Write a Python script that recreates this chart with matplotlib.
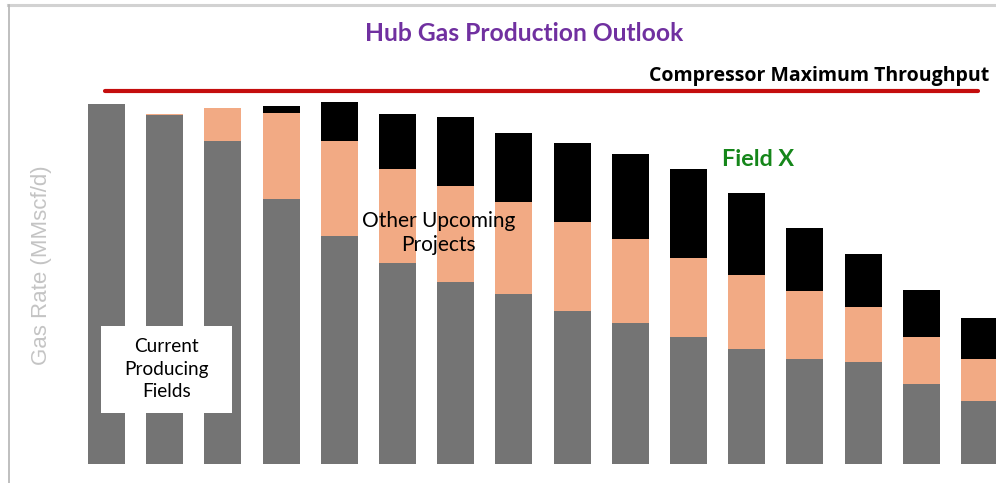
import matplotlib.pyplot as plt
from matplotlib.lines import Line2D
from matplotlib.patches import Rectangle
import numpy as np

# Bar data (arbitrary gas-rate units)
PERIODS = list(range(16))
CURRENT_FIELDS = [360, 349, 323, 265, 228, 201, 182, 170, 153, 141, 127, 115, 105, 102, 80, 63]
OTHER_PROJECTS = [0, 1, 33, 86, 95, 94, 96, 92, 89, 84, 79, 74, 68, 55, 47, 42]
FIELD_X = [0, 0, 0, 7, 39, 55, 69, 69, 79, 85, 89, 82, 63, 53, 47, 41]
COMPRESSOR_MAX = 373.5

GRAY = '#747474'
SALMON = '#f2aa84'
BLACK = '#000000'


def plot_data():
    fig = plt.figure(figsize=(9.96, 4.83), dpi=100)
    ax = fig.add_axes([0, 0, 1, 1])

    x = np.array(PERIODS)
    cur = np.array(CURRENT_FIELDS)
    oth = np.array(OTHER_PROJECTS)
    fx = np.array(FIELD_X)
    width = 0.636

    ax.bar(x, cur, width=width, color=GRAY)
    ax.bar(x, oth, width=width, bottom=cur, color=SALMON)
    ax.bar(x, fx, width=width, bottom=cur + oth, color=BLACK)

    # compressor limit
    ax.hlines(COMPRESSOR_MAX, -0.02, 14.98, color='#c40d0d', lw=3.0, capstyle='round')
    ax.text(15.17, COMPRESSOR_MAX + 4, 'Compressor Maximum Throughput', ha='right', va='bottom',
            fontsize=14, fontweight='bold', family='Open Sans', color='black')

    ax.set_xlim(-1.830, 15.284)
    ax.set_ylim(-19, 464)
    ax.axis('off')

    # annotations
    ax.text(11.19, 304, 'Field X', ha='center', va='center', fontsize=16.8,
            fontweight='bold', family='Lato', color='#15861a')
    ax.text(5.70, 231, 'Other Upcoming\nProjects', ha='center', va='center', fontsize=15,
            family='Lato', color='black', linespacing=1.2)
    ax.add_patch(Rectangle((-0.0945, 51), 2.25, 87, facecolor='white', edgecolor='none', zorder=3))
    ax.text(1.03, 95, 'Current\nProducing\nFields', ha='center', va='center', fontsize=13.7,
            family='Lato', color='black', linespacing=1.4, zorder=4)

    # title and axis label placed in figure coordinates
    fig.text(0.526, 0.931, 'Hub Gas Production Outlook', ha='center', va='center',
             fontsize=17.7, fontweight='bold', family='Lato', color='#7030a0')
    fig.text(0.042, 0.451, 'Gas Rate (MMscf/d)', ha='center', va='center', rotation=90,
             fontsize=16, family='Liberation Sans', color='#c4c4c4')

    # chart frame
    fig.add_artist(Line2D([0.008, 1.0], [0.989, 0.989], transform=fig.transFigure,
                          color='#d2d2d2', lw=2.2))
    fig.add_artist(Line2D([0.009, 0.009], [0.0, 0.989], transform=fig.transFigure,
                          color='#b4b4b4', lw=1.2))

    fig.savefig('out.png', dpi=100)


plot_data()
